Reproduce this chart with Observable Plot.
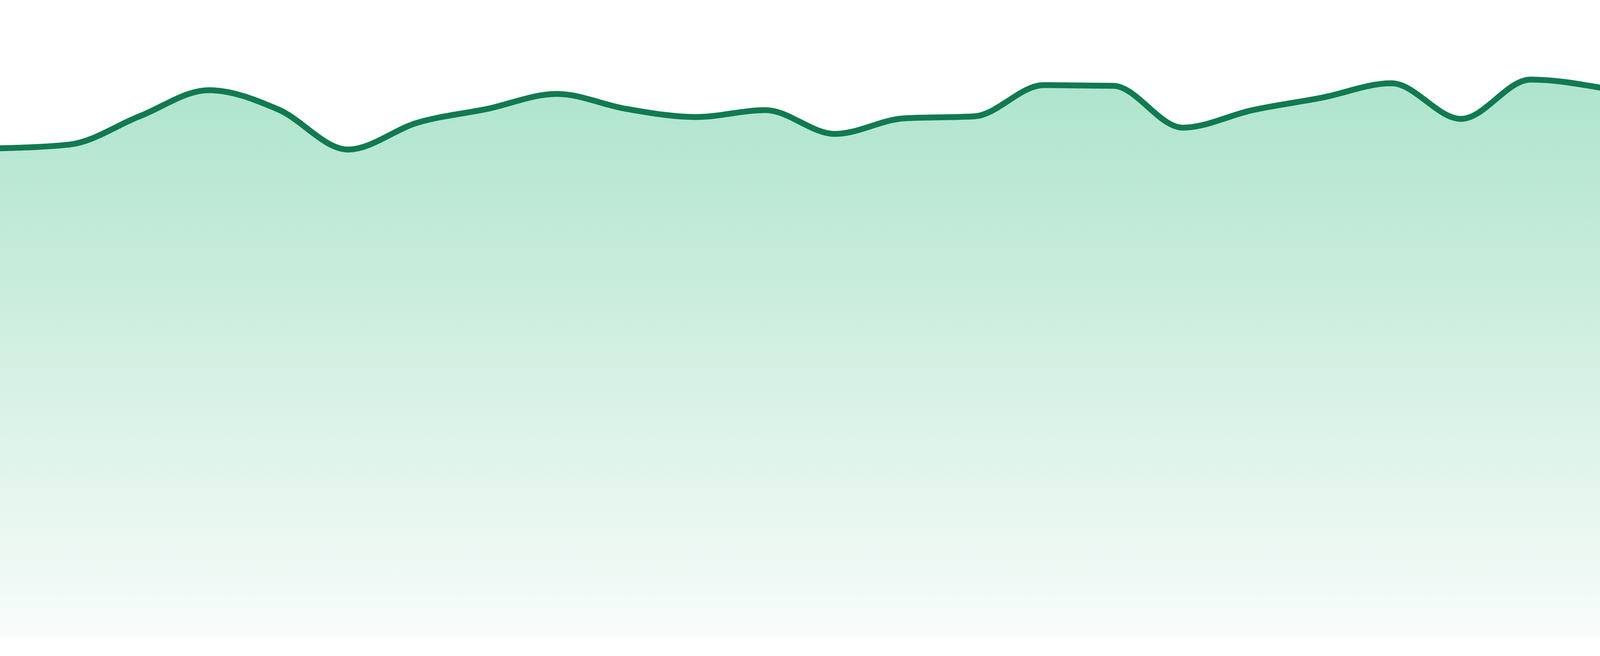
<!DOCTYPE html>
<html>
<head>
<meta charset="utf-8">
<script src="https://cdn.jsdelivr.net/npm/d3@7"></script>
<script src="https://cdn.jsdelivr.net/npm/@observablehq/plot@0.6"></script>
<style>
  html, body { margin: 0; padding: 0; background: #ffffff; overflow: hidden; }
  #chart { line-height: 0; }
  #chart svg { display: block; }
</style>
</head>
<body>
<div id="chart"></div>
<script>
// x positions (sequential points)
const points = [1, 2, 3, 4, 5, 6, 7, 8, 9, 10, 11, 12, 13, 14, 15, 16, 17, 18, 19, 20, 21, 22, 23, 24];
// series values
const values = [78.3, 78.9, 83.4, 87.6, 84.5, 78.1, 82.4, 84.6, 87.0, 84.6, 83.3, 84.4,
                80.6, 83.1, 83.4, 88.4, 88.3, 81.6, 84.4, 86.4, 88.7, 83.0, 89.3, 88.0];

const data = points.map((p, i) => ({x: p, y: values[i]}));

const lineColor = "#117a50";
const topColor = "#aee4cc";
const bottomColor = "#f8fcfa";

// fill the browser viewport (the window may be narrower than 4800 CSS px)
const W = Math.min(4800, document.documentElement.clientWidth || window.innerWidth || 4800);
const H = 1680;

const defs = () => {
  const d = d3.create("svg:defs");
  const g = d.append("linearGradient")
    .attr("id", "areaGrad")
    .attr("x1", 0).attr("y1", 0).attr("x2", 0).attr("y2", 1);
  g.append("stop").attr("offset", "0%").attr("stop-color", topColor);
  g.append("stop").attr("offset", "100%").attr("stop-color", bottomColor);
  return d.node();
};

const chart = Plot.plot({
  width: W,
  height: H,
  marginLeft: 0,
  marginRight: 0,
  marginTop: 32,
  marginBottom: 48,
  x: {domain: [1, 24], axis: null},
  y: {domain: [0, 100], axis: null},
  marks: [
    defs,
    Plot.areaY(data, {x: "x", y: "y", fill: "url(#areaGrad)", curve: "monotone-x"}),
    Plot.lineY(data, {x: "x", y: "y", stroke: lineColor, strokeWidth: 15, curve: "monotone-x"})
  ]
});
document.getElementById("chart").appendChild(chart);
</script>
</body>
</html>
